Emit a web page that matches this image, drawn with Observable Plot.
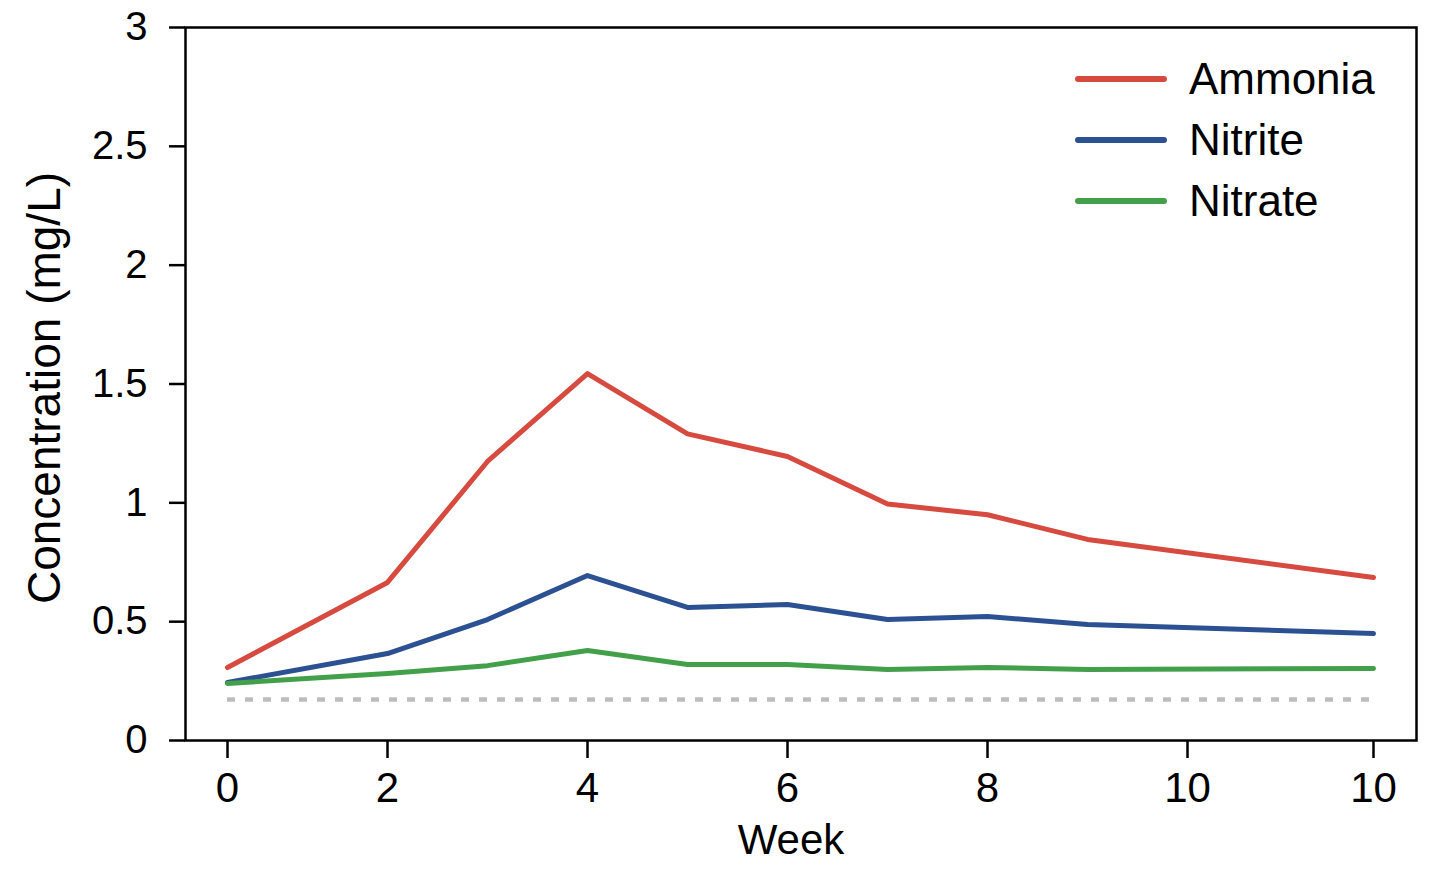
<!DOCTYPE html>
<html>
<head>
<meta charset="utf-8">
<script src="https://cdn.jsdelivr.net/npm/d3@7"></script>
<script src="https://cdn.jsdelivr.net/npm/@observablehq/plot@0.6"></script>
<style>
  html, body { margin: 0; padding: 0; background: #fff; }
  #wrap { position: relative; width: 1432px; height: 872px; font-family: "Liberation Sans", Arial, sans-serif; }
  #legend { position: absolute; left: 1075px; top: 48px; }
  .row { display: flex; align-items: center; height: 61px; }
  .swatch { width: 92px; height: 6px; border-radius: 3px; margin-right: 22px; }
  .lab { font-size: 44px; color: #000; line-height: 1; }
</style>
</head>
<body>
<div id="wrap">
  <div id="chart"></div>
  <div id="legend"></div>
</div>
<script>
// ---- data ----
const weeks    = [0.4, 2, 3, 4, 5, 6, 7, 8, 9, 11.86];   // x positions (axis units)
const ammonia  = [0.307, 0.665, 1.174, 1.544, 1.29, 1.195, 0.995, 0.95, 0.846, 0.686];
const nitrite  = [0.244, 0.366, 0.509, 0.694, 0.56, 0.572, 0.509, 0.522, 0.488, 0.45];
const nitrate  = [0.24, 0.282, 0.315, 0.379, 0.32, 0.32, 0.299, 0.307, 0.299, 0.303];
const baseline = 0.172;
const seriesNames  = ["Ammonia", "Nitrite", "Nitrate"];
const seriesColors = ["#d64a3f", "#2b5192", "#43a04a"];
const xTickPos    = [0.4, 2, 4, 6, 8, 10, 11.86];
const xTickLabels = ["0", "2", "4", "6", "8", "10", "10"];
const yTicks      = [0, 0.5, 1, 1.5, 2, 2.5, 3];

// ---- build table ----
const seriesValues = [ammonia, nitrite, nitrate];
const rows = [];
seriesNames.forEach((name, s) => {
  weeks.forEach((w, i) => rows.push({series: name, week: w, value: seriesValues[s][i]}));
});

const chart = Plot.plot({
  width: 1432,
  height: 872,
  marginLeft: 185,
  marginRight: 16,
  marginTop: 27,
  marginBottom: 132,
  style: { fontFamily: "'Liberation Sans', Arial, sans-serif", color: "#000", background: "#fff" },
  x: { domain: [-0.02, 12.29] },
  y: { domain: [0, 3] },
  color: { domain: seriesNames, range: seriesColors },
  marks: [
    Plot.ruleY([baseline], {
      x1: weeks[0], x2: weeks[weeks.length - 1],
      stroke: "#bdbdbd", strokeWidth: 4.5, strokeDasharray: "8,10"
    }),
    Plot.line(rows, {
      x: "week", y: "value", z: "series", stroke: "series",
      strokeWidth: 5, strokeLinejoin: "round", strokeLinecap: "round"
    }),
    Plot.frame({ stroke: "#000", strokeWidth: 2.5 }),
    Plot.axisY({
      ticks: yTicks, tickFormat: d => String(d), tickSize: 16, tickPadding: 22,
      fontSize: 40, strokeWidth: 2.5, label: null
    }),
    Plot.axisX({
      ticks: xTickPos, tickFormat: (d, i) => xTickLabels[i], tickSize: 18, tickPadding: 14,
      fontSize: 42, strokeWidth: 2.5, label: null
    }),
    Plot.text(["Concentration (mg/L)"], {
      frameAnchor: "left", rotate: -90, dx: -140, dy: 4, fontSize: 46,
      textAnchor: "middle", lineAnchor: "middle", fill: "#000"
    }),
    Plot.text(["Week"], {
      frameAnchor: "bottom", dx: -10, dy: 100, fontSize: 42,
      textAnchor: "middle", lineAnchor: "middle", fill: "#000"
    })
  ]
});
document.getElementById("chart").append(chart);

const legend = document.getElementById("legend");
seriesNames.forEach((name, i) => {
  const row = document.createElement("div");
  row.className = "row";
  const sw = document.createElement("div");
  sw.className = "swatch";
  sw.style.background = seriesColors[i];
  const lab = document.createElement("div");
  lab.className = "lab";
  lab.textContent = name;
  row.append(sw, lab);
  legend.append(row);
});
</script>
</body>
</html>
